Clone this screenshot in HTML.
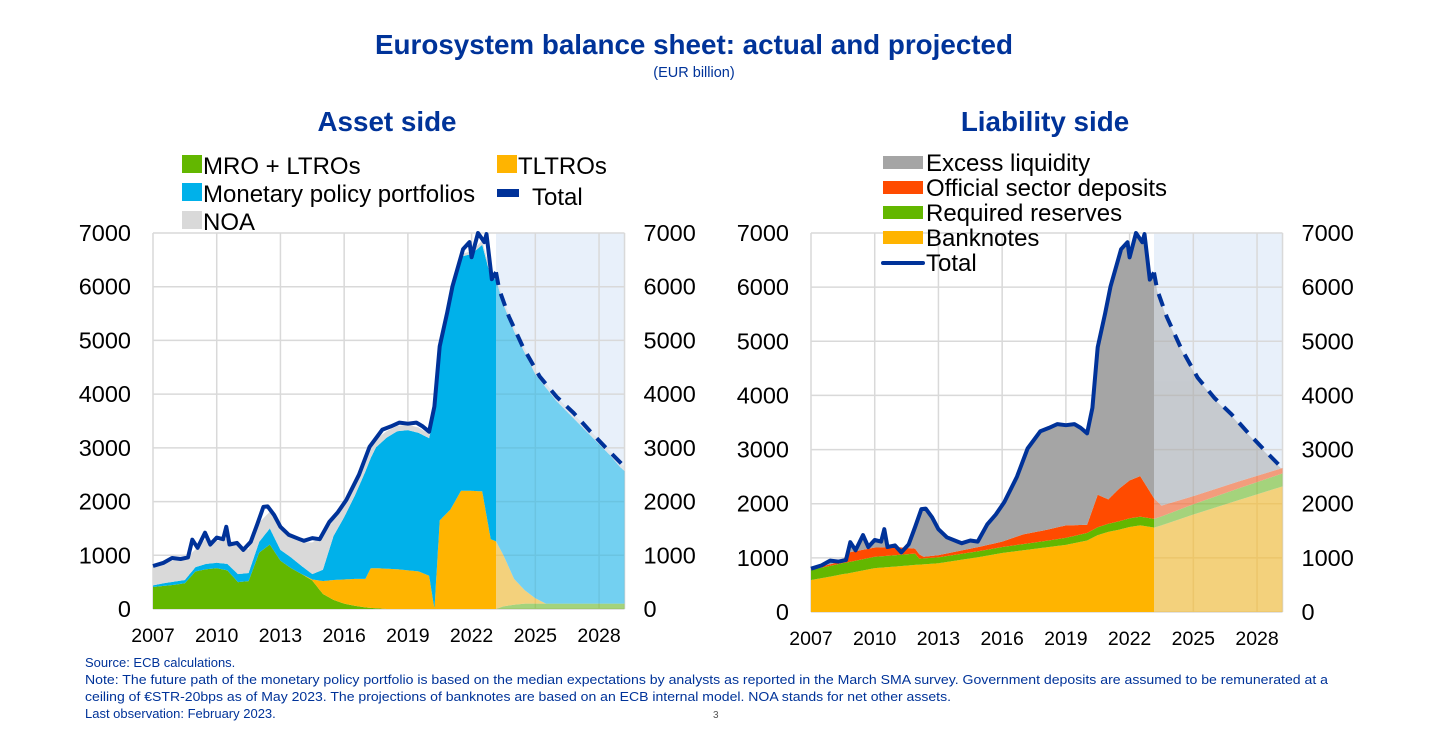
<!DOCTYPE html>
<html><head><meta charset="utf-8">
<style>
body{margin:0;background:#fff;width:1432px;height:731px;overflow:hidden;font-family:"Liberation Sans",Arial,sans-serif;}
svg{position:absolute;left:0;top:0}
</style></head>
<body>
<svg id="chart" width="1432" height="731" viewBox="0 0 1432 731" xmlns="http://www.w3.org/2000/svg" font-family="Liberation Sans, Arial, sans-serif">
<text x="694" y="54" text-anchor="middle" font-size="27.8" font-weight="bold" fill="#003399">Eurosystem balance sheet: actual and projected</text>
<text x="694" y="77" text-anchor="middle" font-size="14.5" fill="#003399">(EUR billion)</text>
<text x="387" y="131" text-anchor="middle" font-size="27.8" font-weight="bold" fill="#003399">Asset side</text>
<text x="1045" y="131" text-anchor="middle" font-size="27.8" font-weight="bold" fill="#003399">Liability side</text>
<g id="left"></g>
<g id="right"></g>
<g id="legends"></g>
<g font-size="13" fill="#003399">
<text x="85" y="667">Source: ECB calculations.</text>
<text x="85" y="684" textLength="1243" lengthAdjust="spacingAndGlyphs">Note: The future path of the monetary policy portfolio is based on the median expectations by analysts as reported in the March SMA survey. Government deposits are assumed to be remunerated at a</text>
<text x="85" y="701" textLength="866" lengthAdjust="spacingAndGlyphs">ceiling of €STR-20bps as of May 2023. The projections of banknotes are based on an ECB internal model. NOA stands for net other assets.</text>
<text x="85" y="718">Last observation: February 2023.</text>
<text x="713" y="718" font-size="10" fill="#555">3</text>
</g>
</svg>
<script>
// ---------- data ----------
const xTicks = [2007, 2010, 2013, 2016, 2019, 2022, 2025, 2028];
const yTicks = [0, 1000, 2000, 3000, 4000, 5000, 6000, 7000];
const projStart = 2023.15;
const xEnd = 2029.2;

// Total (both sides)
const totalDates = [2007.0,2007.5,2007.9,2008.3,2008.65,2008.85,2009.1,2009.45,2009.7,2010.0,2010.3,2010.45,2010.6,2010.95,2011.25,2011.6,2011.9,2012.2,2012.4,2012.7,2013.0,2013.4,2013.9,2014.1,2014.5,2014.85,2015.3,2015.7,2016.1,2016.7,2017.2,2017.8,2018.2,2018.6,2019.0,2019.4,2019.7,2020.0,2020.25,2020.5,2020.85,2021.1,2021.6,2021.9,2022.0,2022.3,2022.6,2022.7,2022.95,2023.15];
const totalValues = [800,860,950,930,960,1290,1140,1420,1200,1330,1300,1530,1200,1230,1100,1250,1570,1900,1910,1750,1530,1380,1300,1270,1320,1300,1620,1800,2030,2500,3020,3340,3400,3470,3450,3470,3400,3300,3770,4890,5520,6010,6700,6830,6550,7000,6830,6980,6140,6270];
const projDates = [2023.15,2023.3,2023.75,2024.4,2025.2,2026.0,2026.8,2027.6,2028.4,2029.2];
const projValues = [6270,5950,5450,4890,4330,3950,3650,3300,2970,2650];

// Asset side
const assetDates = [2007,2007.5,2008,2008.5,2009,2009.5,2010,2010.5,2011,2011.5,2012,2012.5,2013,2013.5,2014,2014.5,2015,2015.5,2016,2016.5,2017,2017.25,2017.5,2018,2018.5,2019,2019.5,2020,2020.25,2020.5,2021,2021.5,2022,2022.5,2022.9,2023.15,2023.5,2024,2024.5,2025,2025.5,2026,2026.5,2027,2027.5,2028,2028.5,2029,2029.2];
const mroLtro = [410,430,450,480,700,740,760,720,500,520,1050,1200,900,760,650,530,280,170,100,60,30,20,15,0,0,0,0,0,0,0,0,0,0,0,0,0,50,80,100,100,100,100,100,100,100,100,100,100,100];
const tltro = [0,0,0,0,0,0,0,0,0,0,0,0,0,0,0,20,240,370,450,500,530,740,745,750,740,720,700,620,0,1650,1850,2200,2200,2190,1300,1260,950,480,250,100,0,0,0,0,0,0,0,0,0];
const mpp = [30,50,60,60,80,100,100,120,150,150,200,300,200,200,150,100,210,820,1160,1550,2000,2050,2250,2440,2570,2610,2580,2560,3630,3150,3960,4360,4410,4590,4880,4870,4670,4610,4420,4170,4020,3770,3570,3370,3170,2970,2770,2540,2470];
const noa = [320,360,400,380,330,470,400,470,530,440,360,310,390,370,440,590,630,300,250,200,150,150,150,120,100,100,100,80,80,50,50,50,50,80,80,80,80,80,80,80,80,80,80,80,80,80,80,80,80];

// Liability side
const liabDates = [2007,2008,2008.5,2008.7,2010,2011,2011.9,2012.1,2012.3,2013,2014,2015,2016,2017,2018,2019,2020,2020.5,2021,2021.5,2022,2022.5,2023.15,2023.5,2025,2027,2029.2];
const banknotes = [590,660,700,710,810,840,870,875,880,900,960,1020,1090,1140,1190,1240,1320,1420,1480,1520,1570,1600,1560,1600,1800,2050,2320];
const reserves = [190,200,205,205,210,210,210,110,110,110,110,110,110,115,120,130,140,145,150,155,160,160,160,165,190,215,240];
const officialDeposits = [20,30,50,180,170,150,90,80,30,40,60,80,100,180,200,230,150,600,450,600,700,750,380,200,150,130,100];

// ---------- helpers ----------
const NS = "http://www.w3.org/2000/svg";
function mk(tag, attrs, parent){const e=document.createElementNS(NS,tag);for(const k in attrs)e.setAttribute(k,attrs[k]);parent.appendChild(e);return e;}
function interp(ds, vs, t){
  if(t<=ds[0])return vs[0];
  for(let i=1;i<ds.length;i++){if(t<=ds[i]){const f=(t-ds[i-1])/(ds[i]-ds[i-1]);return vs[i-1]+f*(vs[i]-vs[i-1]);}}
  return vs[vs.length-1];
}
function totalAt(t){return t<=projStart?interp(totalDates,totalValues,t):interp(projDates,projValues,t);}

function buildChart(g, cfg){
  const xs = t => cfg.x0 + (t-2007)*cfg.pxYear;
  const ys = v => cfg.yBottom - v*(cfg.yBottom-cfg.yTop)/7000;
  const xR = xs(xEnd);
  const bg = mk('rect',{x:xs(projStart),y:cfg.yTop,width:xR-xs(projStart),height:cfg.yBottom-cfg.yTop,fill:'#E8F0FA'},g);
  
  
  yTicks.forEach(v=>{
    const l=mk('line',{x1:cfg.x0,x2:xR,y1:ys(v),y2:ys(v),stroke:'#d9d9d9','stroke-width':1.5},g);
    
    
  });
  xTicks.forEach(t=>{
    const l=mk('line',{x1:xs(t),x2:xs(t),y1:cfg.yTop,y2:cfg.yBottom,stroke:'#d9d9d9','stroke-width':1.5},g);
    
    
  });
  mk('line',{x1:xR,x2:xR,y1:cfg.yTop,y2:cfg.yBottom,stroke:'#d9d9d9','stroke-width':1.5},g);
  const defs=mk('defs',{},g);
  const c1=mk('clipPath',{id:cfg.id+'-act'},defs);
  mk('rect',{x:cfg.x0-2,y:0,width:xs(projStart)-cfg.x0+2,height:731},c1);
  const c2=mk('clipPath',{id:cfg.id+'-proj'},defs);
  mk('rect',{x:xs(projStart),y:0,width:xR-xs(projStart)+1,height:731},c2);
  const samples=[];
  for(let t=2007;t<=xEnd+1e-9;t+=0.02)samples.push(t);
  const bottoms=samples.map(()=>0);
  const polys=[];
  cfg.layers.forEach(L=>{
    const tops=samples.map((t,i)=>bottoms[i]+Math.max(0,L.valueAt(t,bottoms[i])));
    let d='M'+samples.map((t,i)=>xs(t).toFixed(1)+','+ys(tops[i]).toFixed(1)).join('L');
    for(let i=samples.length-1;i>=0;i--)d+='L'+xs(samples[i]).toFixed(1)+','+ys(bottoms[i]).toFixed(1);
    d+='Z';
    polys.push({d,L});
    tops.forEach((v,i)=>bottoms[i]=v);
  });
  ['act','proj'].forEach(part=>{
    const grp=mk('g',{'clip-path':'url(#'+cfg.id+'-'+part+')',opacity:part==='proj'?0.5:1},g);
    polys.forEach(p=>{
      const a=mk('path',{d:p.d,fill:p.L.color},grp);
      
      
    });
  });
  const la=mk('path',{d:'M'+totalDates.map((t,i)=>xs(t).toFixed(1)+','+ys(totalValues[i]).toFixed(1)).join('L'),fill:'none',stroke:'#003299','stroke-width':4,'stroke-linejoin':'round'},g);
  
  
  const lp=mk('path',{d:'M'+projDates.map((t,i)=>xs(t).toFixed(1)+','+ys(projValues[i]).toFixed(1)).join('L'),fill:'none',stroke:'#003299','stroke-width':4,'stroke-dasharray':'13 9'},g);
  
  
  yTicks.forEach(v=>{
    const a=mk('text',{x:cfg.x0-22,y:ys(v)+8,'text-anchor':'end','font-size':23.5,fill:'#000'},g);
    a.textContent=v;
    
    
    const b=mk('text',{x:xR+19,y:ys(v)+8,'text-anchor':'start','font-size':23.5,fill:'#000'},g);
    b.textContent=v;
    
    
  });
  xTicks.forEach(t=>{
    const a=mk('text',{x:xs(t),y:cfg.yBottom+33,'text-anchor':'middle','font-size':19.5,fill:'#000'},g);
    a.textContent=t;
    
    
  });
}

buildChart(document.getElementById('left'),{id:'L',x0:153,pxYear:21.24,yTop:233,yBottom:609,layers:[
  {name:'mro-ltros',color:'#63B700',valueAt:t=>interp(assetDates,mroLtro,t)},
  {name:'tltros',color:'#FFB400',valueAt:t=>interp(assetDates,tltro,t)},
  {name:'monetary-policy-portfolios',color:'#00B1EA',valueAt:t=>interp(assetDates,mpp,t)},
  {name:'noa',color:'#D9D9D9',valueAt:t=>interp(assetDates,noa,t)}
]});
buildChart(document.getElementById('right'),{id:'R',x0:811,pxYear:21.24,yTop:233,yBottom:612,layers:[
  {name:'banknotes',color:'#FFB400',valueAt:t=>interp(liabDates,banknotes,t)},
  {name:'required-reserves',color:'#63B700',valueAt:t=>interp(liabDates,reserves,t)},
  {name:'official-sector-deposits',color:'#FF4B00',valueAt:t=>interp(liabDates,officialDeposits,t)},
  {name:'excess-liquidity',color:'#A5A5A5',valueAt:(t,b)=>totalAt(t)-25-b}
]});

const lg=document.getElementById('legends');
function legendSq(x,y,color,label,name){
  const r=mk('rect',{x:x,y:y,width:20,height:18,fill:color},lg);
  
  
  const t=mk('text',{x:x+21,y:y+19,'font-size':24,fill:'#000'},lg);
  t.textContent=label;
  
  
}
legendSq(182,155,'#63B700','MRO + LTROs','legend-mro-ltros');
legendSq(182,183,'#00B1EA','Monetary policy portfolios','legend-monetary-policy-portfolios');
legendSq(182,211,'#D9D9D9','NOA','legend-noa');
legendSq(497,155,'#FFB400','TLTROs','legend-tltros');
const tb=mk('rect',{x:497,y:189,width:22,height:8,fill:'#003299'},lg);


const tt=mk('text',{x:532,y:205,'font-size':24,fill:'#000'},lg);
tt.textContent='Total';



function legendR(y,color,label,name){
  const r=mk('rect',{x:883,y:y,width:40,height:13,fill:color},lg);
  
  
  const t=mk('text',{x:926,y:y+15,'font-size':24,fill:'#000'},lg);
  t.textContent=label;
  
  
}
legendR(156,'#A5A5A5','Excess liquidity','legend-excess-liquidity');
legendR(181,'#FF4B00','Official sector deposits','legend-official-sector-deposits');
legendR(206,'#63B700','Required reserves','legend-required-reserves');
legendR(231,'#FFB400','Banknotes','legend-banknotes');
const rl=mk('line',{x1:883,x2:923,y1:263,y2:263,stroke:'#003299','stroke-width':4,'stroke-linecap':'round'},lg);


const rt=mk('text',{x:926,y:271,'font-size':24,fill:'#000'},lg);
rt.textContent='Total';


</script>
</body></html>
